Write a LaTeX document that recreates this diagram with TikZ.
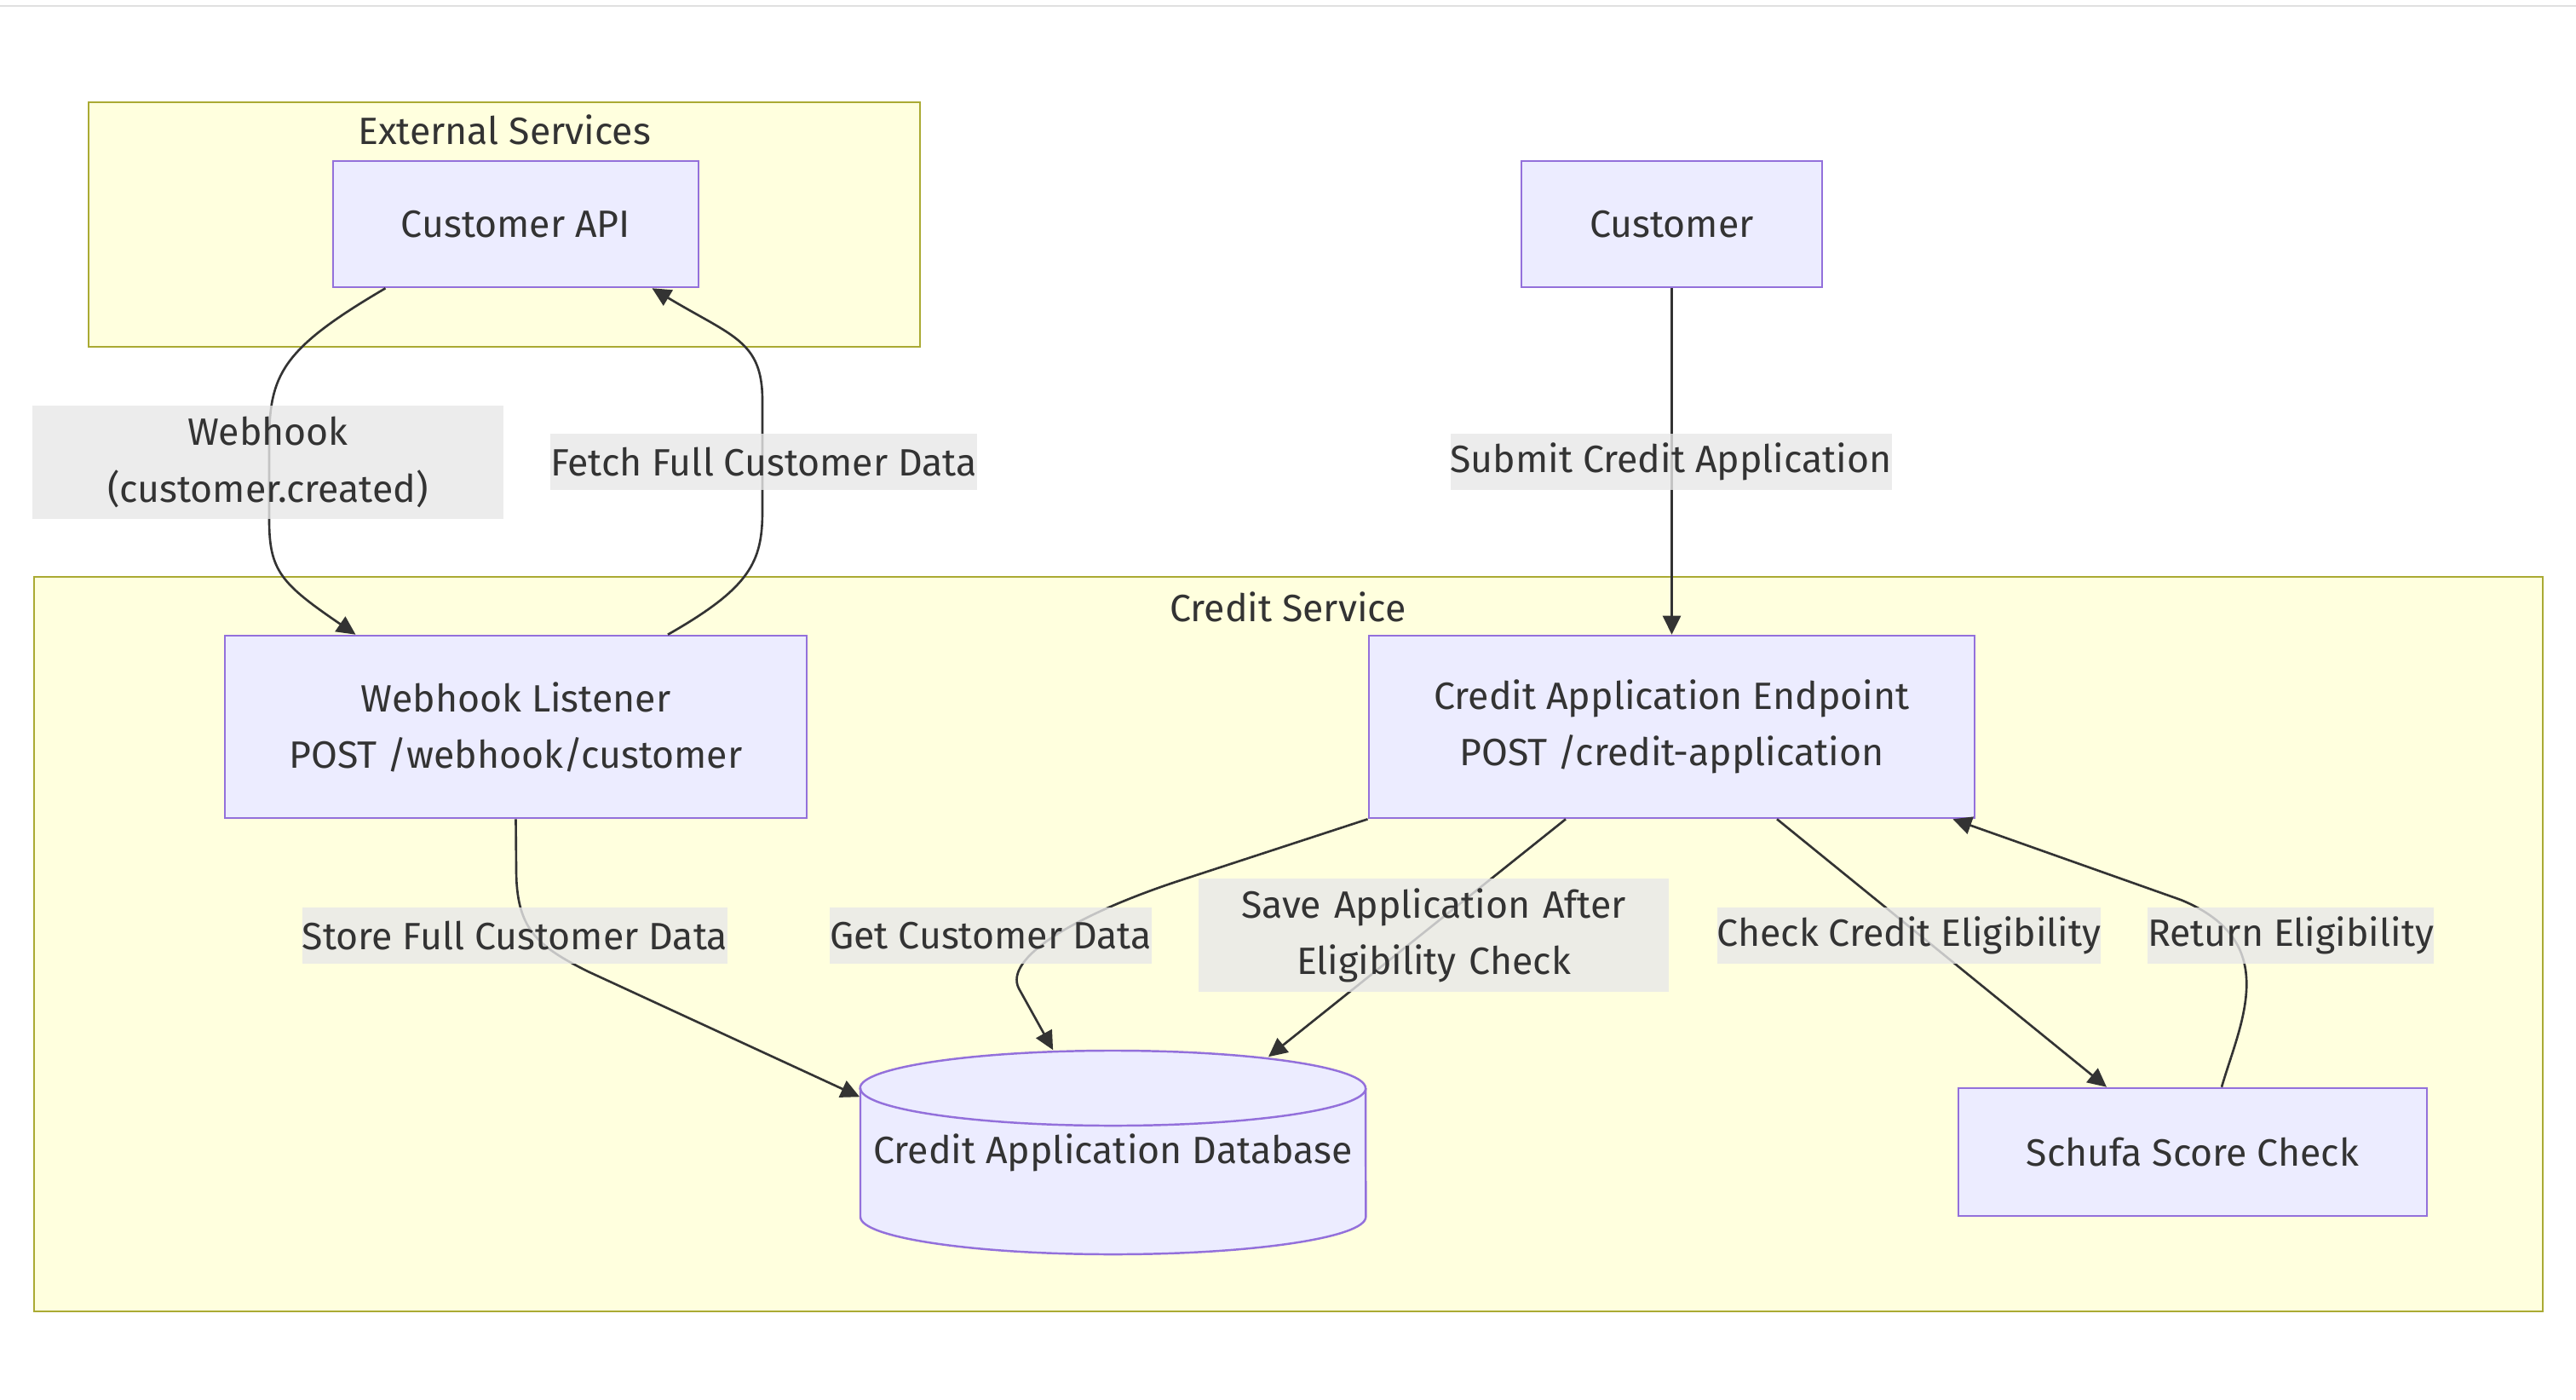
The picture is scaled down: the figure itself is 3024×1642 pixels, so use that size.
\documentclass[tikz,border=0pt]{standalone}
\usepackage{fontspec}
\setmainfont{Fira Sans}
\usetikzlibrary{arrows.meta,calc}

\definecolor{boxfill}{HTML}{ECECFF}
\definecolor{boxline}{HTML}{9370DB}
\definecolor{groupfill}{HTML}{FFFFDE}
\definecolor{groupline}{HTML}{AAAA33}
\definecolor{labelfill}{HTML}{E8E8E8}
\definecolor{ink}{HTML}{333333}

\begin{document}
\begin{tikzpicture}[
    x=0.01cm, y=-0.01cm,
    font=\fontsize{12.7}{18.8}\selectfont,
    text=ink,
    group/.style={draw=groupline, fill=groupfill, line width=0.7pt},
    grouptitle/.style={inner sep=0pt},
    process/.style={rectangle, draw=boxline, fill=boxfill, line width=0.7pt, minimum height=1.48cm, align=center, inner sep=0pt},
    store/.style={draw=boxline, fill=boxfill, line width=0.7pt},
    dbtext/.style={minimum width=5.93cm, minimum height=2.39cm, inner sep=0pt},
    edgelabel/.style={fill=labelfill, fill opacity=0.8, text opacity=1, inner xsep=0pt, inner ysep=0pt, minimum height=0.66cm},
    edgelabeltwo/.style={edgelabel, text width=5.52cm, align=center, minimum height=1.33cm},
    arrow/.style={-{Triangle[length=0.22cm, width=0.21cm]}, draw=ink, line width=0.75pt},
    topline/.style={draw=black!12, line width=0.6pt}
]

\useasboundingbox (0,0) rectangle (3024,1642);
\fill[white] (0,0) rectangle (3024,1642);
\draw[topline] (0,7) -- (3024,7);

\draw[group] (104,120) rectangle (1080,407);
\draw[group] (40,677) rectangle (2985,1539);
\node[grouptitle] (exttitle) at (592,152) {External Services};
\node[grouptitle] (credtitle) at (1512,712) {Credit Service};

\node[process, minimum width=4.29cm] (capi) at (605.5,263) {Customer API};
\node[process, minimum width=3.53cm] (cust) at (1962.5,263) {Customer};
\node[process, minimum width=6.83cm, minimum height=2.14cm] (whl) at (605.5,853) {Webhook Listener\\POST /webhook/customer};
\node[process, minimum width=7.11cm, minimum height=2.14cm] (cae) at (1962.5,853) {Credit Application Endpoint\\POST /credit-application};
\node[process, minimum width=5.50cm, minimum height=1.50cm] (sch) at (2574,1352) {Schufa Score Check};

\path[store] (1010,1277) -- (1010,1428) arc[start angle=180, end angle=360, x radius=2.965cm, y radius=0.44cm]
    -- (1603,1277) arc[start angle=0, end angle=180, x radius=2.965cm, y radius=0.44cm] -- cycle;
\draw[store, fill=none] (1010,1277) arc[start angle=180, end angle=360, x radius=2.965cm, y radius=0.44cm];
\node[dbtext] (db) at (1306.5,1352.5) {Credit Application Database};

\draw[arrow] ($(capi.south)+(-153,0)$) .. controls (330,410) and (316,440) .. (316,520) -- (316,610)
    .. controls (316,670) and (330,685) .. ($(whl.north)+(-188,0)$);
\draw[arrow] ($(whl.north)+(178.5,0)$) .. controls (880,690) and (895,660) .. (895,600) -- (895,470)
    .. controls (895,400) and (860,395) .. ($(capi.south)+(160,0)$);
\draw[arrow] (cust) -- (cae);
\draw[arrow] (whl.south) -- (606,1020) .. controls (606,1090) and (630,1110) .. (690,1140) -- ($(db.north west)+(0,55)$);
\draw[arrow] (cae.south west) -- (1380,1035) .. controls (1260,1075) and (1178,1125) .. (1196,1160) -- ($(db.north west)+(227,0)$);
\draw[arrow] ($(cae.south)+(-124.5,0)$) -- ($(db.north)+(182.5,8)$);
\draw[arrow] ($(cae.south)+(123.5,0)$) -- ($(sch.north)+(-101,0)$);
\draw[arrow] ($(sch.north)+(34,0)$) .. controls (2630,1200) and (2680,1105) .. (2560,1056) -- ($(cae.south east)+(-27,0)$);

\node[edgelabeltwo] (lwebhook) at (314.5,542.5) {Webhook\\(customer.created)};
\node[edgelabel] (lfetch) at (896.5,542) {Fetch Full Customer Data};
\node[edgelabel] (lsubmit) at (1961.5,542) {Submit Credit Application};
\node[edgelabel] (lstore) at (604.5,1098) {Store Full Customer Data};
\node[edgelabel] (lget) at (1163,1098) {Get Customer Data};
\node[edgelabeltwo] (lsave) at (1683,1097.5) {Save Application After\\Eligibility Check};
\node[edgelabel] (lcheck) at (2241,1098) {Check Credit Eligibility};
\node[edgelabel] (lreturn) at (2689,1098) {Return Eligibility};

\end{tikzpicture}
\end{document}
